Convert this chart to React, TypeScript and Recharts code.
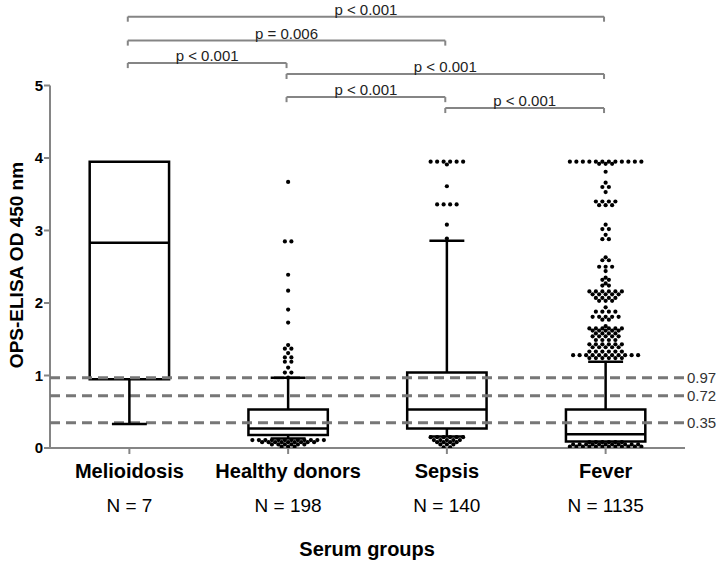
import { ComposedChart, XAxis, YAxis, Scatter, ReferenceLine, ReferenceArea } from "recharts";

const FONT = "'Liberation Sans', Arial, Helvetica, sans-serif";
const GRAY = "#858585";

if (typeof document !== "undefined") document.body.style.margin = "0";

const groups = ["Melioidosis", "Healthy donors", "Sepsis", "Fever"];
const counts = [7, 198, 140, 1135];

// box plot summary per group
const q1 = [0.95, 0.18, 0.27, 0.09];
const median = [2.83, 0.27, 0.53, 0.19];
const q3 = [3.95, 0.53, 1.04, 0.53];
const whiskerLow = [0.33, 0.13, 0.16, 0.09];
const whiskerHigh = [3.95, 0.97, 2.86, 1.19];

const cutoffs = [0.97, 0.72, 0.35];
const yTicks = [0, 1, 2, 3, 4, 5];

// outliers per group (equal values sit side by side in one row)
const healthyHigh = [3.67, 2.85, 2.85, 2.39, 2.17, 1.91, 1.73, 1.42, 1.37, 1.37, 1.31, 1.25, 1.25, 1.19, 1.19, 1.11, 1.04, 1.04, 0.97];
const healthyLow = [
  0.11, 0.11, 0.11, 0.11, 0.11, 0.11, 0.11, 0.11, 0.11, 0.11, 0.11, 0.11,
  0.08, 0.08, 0.08, 0.08, 0.08, 0.08, 0.08, 0.08, 0.08,
  0.05, 0.05, 0.05, 0.05, 0.05, 0.05, 0.02, 0.02, 0.02,
];
const sepsisHigh = [3.95, 3.95, 3.95, 3.95, 3.95, 3.95, 3.91, 3.61, 3.36, 3.36, 3.36, 3.36, 3.08, 2.89];
const sepsisLow = [
  0.15, 0.15, 0.15, 0.15, 0.15, 0.15, 0.11, 0.11, 0.11, 0.11, 0.11,
  0.08, 0.08, 0.08, 0.08, 0.05, 0.05, 0.05, 0.01, 0.01,
];
const feverHigh = [
  3.95, 3.95, 3.95, 3.95, 3.95, 3.95, 3.95, 3.95, 3.95, 3.95, 3.95, 3.95, 3.92, 3.92, 3.92,
  3.81, 3.66, 3.6, 3.6, 3.53,
  3.4, 3.4, 3.4, 3.4, 3.35, 3.35, 3.35,
  3.08, 3.02, 3.02, 2.94, 2.88, 2.88,
  2.63, 2.59, 2.59, 2.5, 2.5, 2.5, 2.44,
  2.35, 2.32, 2.32, 2.27, 2.24, 2.24,
  2.16, 2.16, 2.16, 2.16, 2.16, 2.16, 2.12, 2.12, 2.12, 2.12, 2.12, 2.07, 2.07, 2.07, 2.07, 2.03, 2.03, 2.03,
  1.94, 1.88, 1.88, 1.88, 1.88, 1.81, 1.81, 1.81, 1.81, 1.81, 1.77, 1.77,
  1.68, 1.65, 1.65, 1.65, 1.65, 1.65, 1.65, 1.62, 1.62, 1.62, 1.62, 1.62,
  1.58, 1.58, 1.58, 1.58, 1.54, 1.54, 1.54, 1.54, 1.54, 1.49, 1.49, 1.49, 1.49,
  1.43, 1.43, 1.43, 1.43, 1.43, 1.43, 1.39, 1.39, 1.39, 1.39, 1.39, 1.33, 1.33, 1.33, 1.33, 1.33, 1.33,
  1.28, 1.28, 1.28, 1.28, 1.28, 1.28, 1.28, 1.28, 1.28, 1.28, 1.28, 1.24, 1.24, 1.24, 1.24, 1.24, 1.24,
];
const feverLow = [
  0.02, 0.02, 0.02, 0.02, 0.02, 0.02, 0.02, 0.02, 0.02, 0.02, 0.02, 0.02,
  0.05, 0.05, 0.05, 0.05, 0.05, 0.05, 0.05, 0.05, 0.05, 0.05, 0.05,
  0.08, 0.08, 0.08, 0.08, 0.08, 0.08,
];

// pairwise comparisons
const pFrom = [0, 0, 0, 1, 1, 2];
const pTo = [3, 2, 1, 3, 2, 3];
const pLevel = [5.95, 5.62, 5.31, 5.16, 4.84, 4.69];
const pText = ["p < 0.001", "p = 0.006", "p < 0.001", "p < 0.001", "p < 0.001", "p < 0.001"];

const W = 717;
const H = 562;
const margin = { top: 13, right: 32, left: 0, bottom: 4 };
const Y_AXIS_W = 50;
const X_AXIS_H = 110;
const PX_X = (W - margin.right - Y_AXIS_W) / 4;
const GAP = 6.5;

// GraphPad-style scatter: equal values form a row centred on the group
function rows(values: number[], group: number) {
  const n = new Map<number, number>();
  values.forEach((v) => n.set(v, (n.get(v) ?? 0) + 1));
  const out: { x: number; y: number }[] = [];
  n.forEach((cnt, v) => {
    for (let j = 0; j < cnt; j++) {
      out.push({ x: group + 0.5 + ((j - (cnt - 1) / 2) * GAP) / PX_X, y: v });
    }
  });
  return out;
}

const dots = [
  ...rows(healthyHigh, 1),
  ...rows(healthyLow, 1),
  ...rows(sepsisHigh, 2),
  ...rows(sepsisLow, 2),
  ...rows(feverHigh, 3),
  ...rows(feverLow, 3),
];

const BOX_HALF = 0.25;
const CAP_HALF = 0.11;
const TICK_DROP = 0.07;

function GroupTick(props: any) {
  const { x, y, payload } = props;
  const i = Math.floor(payload.value);
  return (
    <g>
      <text x={x} y={y + 22} textAnchor="middle" fontFamily={FONT} fontSize={20} fontWeight="bold" fill="#000">
        {groups[i]}
      </text>
      <text x={x} y={y + 56} textAnchor="middle" fontFamily={FONT} fontSize={19} fill="#000">
        {`N = ${counts[i]}`}
      </text>
      {i === 1 && (
        <text x={x + 79} y={y + 100} textAnchor="middle" fontFamily={FONT} fontSize={20} fontWeight="bold" fill="#000">
          Serum groups
        </text>
      )}
    </g>
  );
}

export default function App() {
  return (
    <div style={{ position: "relative", width: W, height: H }}>
      <ComposedChart width={W} height={H} margin={margin} style={{ overflow: "visible" }}>
        <XAxis
          type="number"
          dataKey="x"
          domain={[0, 4]}
          ticks={[0.5, 1.5, 2.5, 3.5]}
          height={X_AXIS_H}
          tick={<GroupTick />}
          tickSize={6}
          tickMargin={2}
          axisLine={{ stroke: GRAY, strokeWidth: 2 }}
          tickLine={{ stroke: GRAY, strokeWidth: 2 }}
          allowDataOverflow
        />
        <YAxis
          type="number"
          dataKey="y"
          domain={[0, 6]}
          ticks={yTicks}
          width={Y_AXIS_W}
          axisLine={false}
          tickSize={6}
          tickMargin={1}
          tickLine={{ stroke: GRAY, strokeWidth: 2 }}
          tick={{ fill: "#000", fontSize: 15, fontWeight: "bold", fontFamily: FONT }}
          allowDataOverflow
        />

        {/* y axis line only up to 5 */}
        <ReferenceLine
          segment={[{ x: 0, y: 0 }, { x: 0, y: 5 }]}
          stroke={GRAY}
          strokeWidth={2}
          ifOverflow="visible"
        />

        {cutoffs.map((c) => (
          <ReferenceLine
            key={c}
            y={c}
            stroke="#777"
            strokeWidth={3}
            strokeDasharray="10 6"
            ifOverflow="visible"
            label={{ value: c.toFixed(2), position: "right", offset: 2, fill: "#333", fontSize: 15, fontFamily: FONT }}
          />
        ))}

        {groups.map((g, i) => {
          const c = i + 0.5;
          return [
            <ReferenceArea
              key={`box-${g}`}
              x1={c - BOX_HALF}
              x2={c + BOX_HALF}
              y1={q1[i]}
              y2={q3[i]}
              fill="none"
              fillOpacity={0}
              stroke="#000"
              strokeWidth={2.5}
              ifOverflow="visible"
            />,
            <ReferenceLine
              key={`med-${g}`}
              segment={[{ x: c - BOX_HALF, y: median[i] }, { x: c + BOX_HALF, y: median[i] }]}
              stroke="#000"
              strokeWidth={2.5}
              ifOverflow="visible"
            />,
            whiskerHigh[i] > q3[i] && (
              <ReferenceLine
                key={`wh-${g}`}
                segment={[{ x: c, y: q3[i] }, { x: c, y: whiskerHigh[i] }]}
                stroke="#000"
                strokeWidth={2.5}
                ifOverflow="visible"
              />
            ),
            whiskerHigh[i] > q3[i] && (
              <ReferenceLine
                key={`whc-${g}`}
                segment={[{ x: c - CAP_HALF, y: whiskerHigh[i] }, { x: c + CAP_HALF, y: whiskerHigh[i] }]}
                stroke="#000"
                strokeWidth={2.5}
                ifOverflow="visible"
              />
            ),
            whiskerLow[i] < q1[i] && (
              <ReferenceLine
                key={`wl-${g}`}
                segment={[{ x: c, y: q1[i] }, { x: c, y: whiskerLow[i] }]}
                stroke="#000"
                strokeWidth={2.5}
                ifOverflow="visible"
              />
            ),
            whiskerLow[i] < q1[i] && (
              <ReferenceLine
                key={`wlc-${g}`}
                segment={[{ x: c - CAP_HALF, y: whiskerLow[i] }, { x: c + CAP_HALF, y: whiskerLow[i] }]}
                stroke="#000"
                strokeWidth={2.5}
                ifOverflow="visible"
              />
            ),
          ];
        })}

        {pText.map((t, k) => {
          const a = pFrom[k] + 0.49;
          const b = pTo[k] + 0.49;
          const lv = pLevel[k];
          return [
            <ReferenceLine
              key={`pl-${k}`}
              segment={[{ x: a, y: lv }, { x: b, y: lv }]}
              stroke={GRAY}
              strokeWidth={2}
              ifOverflow="visible"
              label={{ value: t, position: "top", offset: 2, fill: "#222", fontSize: 15, fontFamily: FONT }}
            />,
            <ReferenceLine
              key={`pa-${k}`}
              segment={[{ x: a, y: lv }, { x: a, y: lv - TICK_DROP }]}
              stroke={GRAY}
              strokeWidth={2}
              ifOverflow="visible"
            />,
            <ReferenceLine
              key={`pb-${k}`}
              segment={[{ x: b, y: lv }, { x: b, y: lv - TICK_DROP }]}
              stroke={GRAY}
              strokeWidth={2}
              ifOverflow="visible"
            />,
          ];
        })}

        <Scatter
          data={dots}
          isAnimationActive={false}
          shape={(p: any) => <circle cx={p.cx} cy={p.cy} r={2.1} fill="#000" />}
        />
      </ComposedChart>
      <div
        style={{
          position: "absolute",
          left: 17,
          top: 265,
          transform: "translate(-50%, -50%) rotate(-90deg)",
          whiteSpace: "nowrap",
          fontFamily: FONT,
          fontSize: 19,
          fontWeight: "bold",
          color: "#000",
        }}
      >
        OPS-ELISA OD 450 nm
      </div>
    </div>
  );
}
